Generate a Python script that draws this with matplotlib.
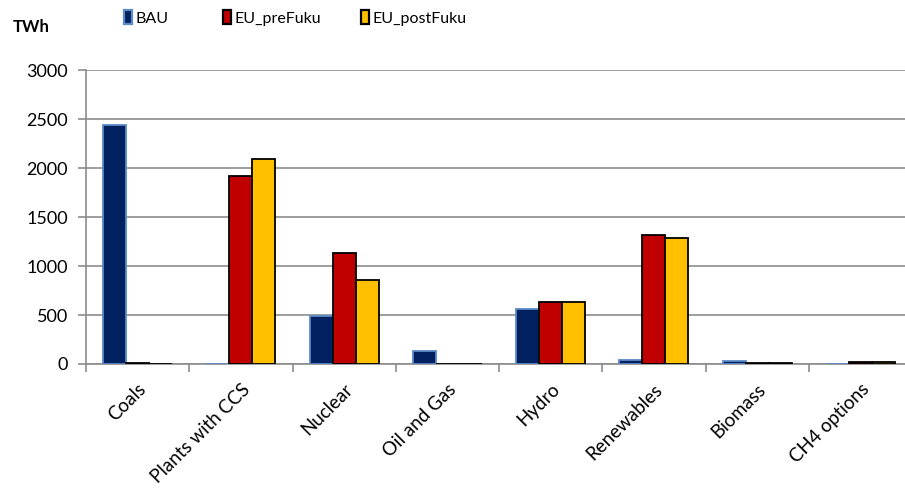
import numpy as np
import matplotlib
matplotlib.use("Agg")
import matplotlib.pyplot as plt
from matplotlib.patches import Patch

categories = ["Coals", "Plants with CCS", "Nuclear", "Oil and Gas",
              "Hydro", "Renewables", "Biomass", "CH4 options"]
bau = [2440, 0, 490, 130, 560, 40, 30, 5]
eu_pre = [10, 1920, 1130, 5, 630, 1315, 8, 25]
eu_post = [5, 2095, 855, 5, 630, 1290, 8, 25]

series = [
    ("BAU", bau, "#002060", "#5b8ac6"),
    ("EU_preFuku", eu_pre, "#c00000", "#000000"),
    ("EU_postFuku", eu_post, "#ffc000", "#000000"),
]
# left edge of each legend marker, in pixels
legend_x = [124, 223, 361]

plt.rcParams["font.family"] = ["Lato", "DejaVu Sans"]

fig = plt.figure(figsize=(9.05, 4.88), dpi=100)
ax = fig.add_axes([86 / 905, 1 - 364 / 488, (912 - 86) / 905, (364 - 70) / 488])

x = np.arange(len(categories))
w = 0.223
for i, (name, vals, face, edge) in enumerate(series):
    ax.bar(x + (i - 1) * w, vals, width=w, color=face, edgecolor=edge,
           linewidth=1.3, zorder=3)
    h = Patch(facecolor=face, edgecolor=edge, linewidth=1.6, label=name)
    fig.legend(handles=[h], loc="center left",
               bbox_to_anchor=(legend_x[i] / 905, 1 - 18 / 488), frameon=False,
               handlelength=0.5, handleheight=1.0, handletextpad=0.25,
               fontsize=11.5, borderaxespad=0, borderpad=0)

ax.set_xlim(-0.5, len(categories) - 0.5)
ax.set_ylim(0, 3000)
ax.set_yticks(range(0, 3001, 500))
ax.yaxis.grid(True, color="#8c8c8c", linewidth=1.2, zorder=0)

ax.set_xticks(x)
ax.set_xticklabels(categories, rotation=45, ha="right", rotation_mode="anchor",
                   fontsize=13.5)
ax.set_xticks(np.arange(-0.5, len(categories)), minor=True)
ax.tick_params(axis="x", which="major", length=0, pad=12)
ax.tick_params(axis="x", which="minor", length=6, color="#8c8c8c", width=1.2)
ax.tick_params(axis="y", length=6, color="#8c8c8c", width=1.2, labelsize=13, pad=7)

for side in ("top", "right"):
    ax.spines[side].set_visible(False)
for side in ("left", "bottom"):
    ax.spines[side].set_color("#8c8c8c")
    ax.spines[side].set_linewidth(1.2)

fig.text(13 / 905, 1 - 27 / 488, "TWh", fontsize=12, fontweight="bold", va="center")

fig.savefig("out.png", dpi=100)
